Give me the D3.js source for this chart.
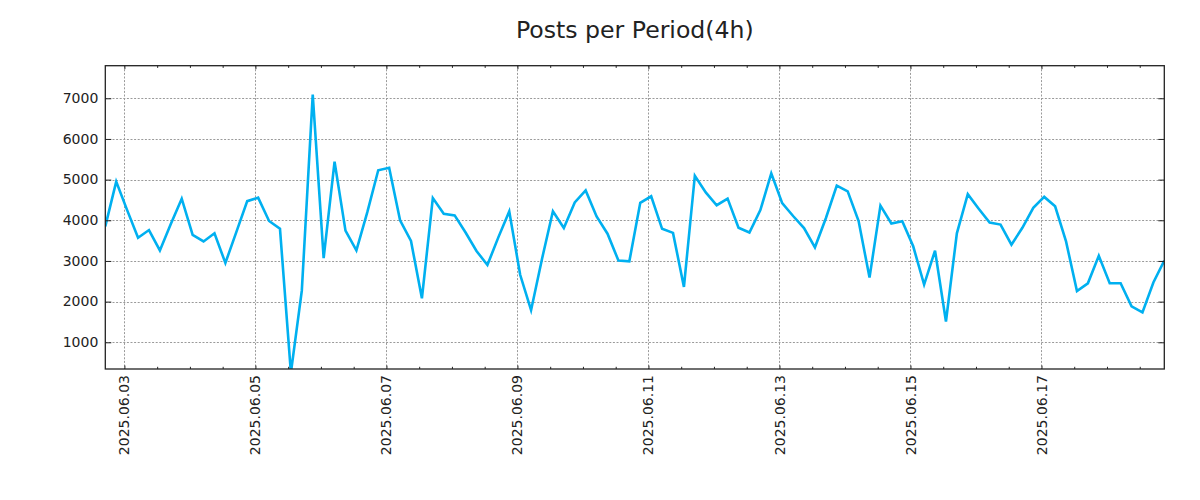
<!DOCTYPE html>
<html>
<head>
<meta charset="utf-8">
<script src="https://cdn.jsdelivr.net/npm/d3@7"></script>
<style>
  html, body { margin: 0; padding: 0; background: #fff; }
  svg { display: block; font-family: "DejaVu Sans", sans-serif; }
</style>
</head>
<body>
<svg id="chart" width="1200" height="500"></svg>
<script>
// ---- data ----
const title = "Posts per Period(4h)";
const startTime = "2025-06-02T17:00:00Z";
const periodHours = 4;
const postCounts = [
  3850, 4950, 4250, 3570, 3760, 3260, 3910, 4530, 3640, 3480,
  3680, 2950, 3710, 4470, 4556, 3983, 3790, 250, 2270, 7090,
  3070, 5440, 3745, 3260, 4200, 5230, 5290, 4000, 3490, 2080,
  4548, 4160, 4120, 3700, 3245, 2900, 3580, 4220, 2660, 1790,
  3050, 4220, 3810, 4440, 4735, 4095, 3670, 3010, 2990, 4430,
  4590, 3790, 3690, 2360, 5095, 4685, 4370, 4532, 3815, 3700,
  4250, 5155, 4420, 4105, 3810, 3335, 4050, 4850, 4710, 3980,
  2590, 4360, 3920, 3975, 3360, 2420, 3255, 1510, 3680, 4640,
  4285, 3945, 3895, 3400, 3815, 4305, 4575, 4345, 3480, 2260,
  2450, 3125, 2450, 2450, 1885, 1735, 2470, 3010
];
const xMajorTicks = ["2025.06.03", "2025.06.05", "2025.06.07", "2025.06.09",
                     "2025.06.11", "2025.06.13", "2025.06.15", "2025.06.17"];
const yTicks = [1000, 2000, 3000, 4000, 5000, 6000, 7000];
const yDomain = [343, 7801];

// ---- build ----
const t0 = new Date(startTime).getTime();
const data = postCounts.map((v, i) => ({ t: new Date(t0 + i * periodHours * 3600e3), v }));
const parseTick = d3.utcParse("%Y.%m.%d");
const majorDates = xMajorTicks.map(parseTick);

const svg = d3.select("#chart");
const pL = 105.3, pR = 1164.3, pT = 65.7, pB = 369;
const W = pR - pL, H = pB - pT;

const x = d3.scaleUtc().domain(d3.extent(data, d => d.t)).range([pL, pR]);
const y = d3.scaleLinear().domain(yDomain).range([pB, pT]);

svg.append("rect").attr("width", 1200).attr("height", 500).attr("fill", "#fff");

// minor ticks every 12h
const minorDates = d3.utcHour.every(12).range(x.domain()[0], x.domain()[1])
  .filter(d => !majorDates.some(m => m.getTime() === d.getTime()));

// grid
const grid = svg.append("g").attr("stroke", "#9a9a9a").attr("stroke-width", 1)
  .attr("stroke-dasharray", "2,1.6");
grid.selectAll(".gx").data(majorDates).enter().append("line")
  .attr("x1", d => Math.round(x(d)) + 0.5).attr("x2", d => Math.round(x(d)) + 0.5)
  .attr("y1", pT).attr("y2", pB);
grid.selectAll(".gy").data(yTicks).enter().append("line")
  .attr("y1", d => Math.round(y(d)) + 0.5).attr("y2", d => Math.round(y(d)) + 0.5)
  .attr("x1", pL).attr("x2", pR);

// clip
svg.append("clipPath").attr("id", "clip").append("rect")
  .attr("x", pL).attr("y", pT).attr("width", W).attr("height", H);

// line
svg.append("path").datum(data)
  .attr("clip-path", "url(#clip)")
  .attr("fill", "none")
  .attr("stroke", "#00b0f0")
  .attr("stroke-width", 2.6)
  .attr("stroke-linejoin", "miter")
  .attr("d", d3.line().x(d => x(d.t)).y(d => y(d.v)));

// axes (ticks inward)
const axisB = d3.axisBottom(x).tickValues(majorDates).tickSize(-3.5).tickFormat("");
const axisT = d3.axisTop(x).tickValues(majorDates).tickSize(-3.5).tickFormat("");
const minorB = d3.axisBottom(x).tickValues(minorDates).tickSize(-2.2).tickFormat("");
const minorT = d3.axisTop(x).tickValues(minorDates).tickSize(-2.2).tickFormat("");
const axisL = d3.axisLeft(y).tickValues(yTicks).tickSize(-6).tickFormat("");
const axisR = d3.axisRight(y).tickValues(yTicks).tickSize(-6).tickFormat("");

function styleAxis(g) {
  g.select(".domain").remove();
  g.selectAll("line").attr("stroke", "#222").attr("stroke-width", 1);
}
svg.append("g").attr("transform", `translate(0,${pB})`).call(axisB).call(styleAxis);
svg.append("g").attr("transform", `translate(0,${pT})`).call(axisT).call(styleAxis);
svg.append("g").attr("transform", `translate(0,${pB})`).call(minorB).call(styleAxis);
svg.append("g").attr("transform", `translate(0,${pT})`).call(minorT).call(styleAxis);
svg.append("g").attr("transform", `translate(${pL},0)`).call(axisL).call(styleAxis);
svg.append("g").attr("transform", `translate(${pR},0)`).call(axisR).call(styleAxis);

// frame
svg.append("rect").attr("x", pL).attr("y", pT).attr("width", W).attr("height", H)
  .attr("fill", "none").attr("stroke", "#222").attr("stroke-width", 1.3);

// y labels
svg.append("g").selectAll("text").data(yTicks).enter().append("text")
  .attr("x", pL - 7).attr("y", d => y(d)).attr("dy", "0.33em")
  .attr("text-anchor", "end").attr("font-size", 14).attr("fill", "#222")
  .text(d => d);

// x labels (rotated)
svg.append("g").selectAll("text").data(majorDates).enter().append("text")
  .attr("transform", d => `translate(${x(d)},${pB + 6}) rotate(-90)`)
  .attr("dy", "0.36em")
  .attr("text-anchor", "end").attr("font-size", 14).attr("fill", "#222")
  .text((d, i) => xMajorTicks[i]);

// title
svg.append("text").attr("x", (pL + pR) / 2).attr("y", 38)
  .attr("text-anchor", "middle").attr("font-size", 23.6).attr("fill", "#222")
  .text(title);
</script>
</body>
</html>
